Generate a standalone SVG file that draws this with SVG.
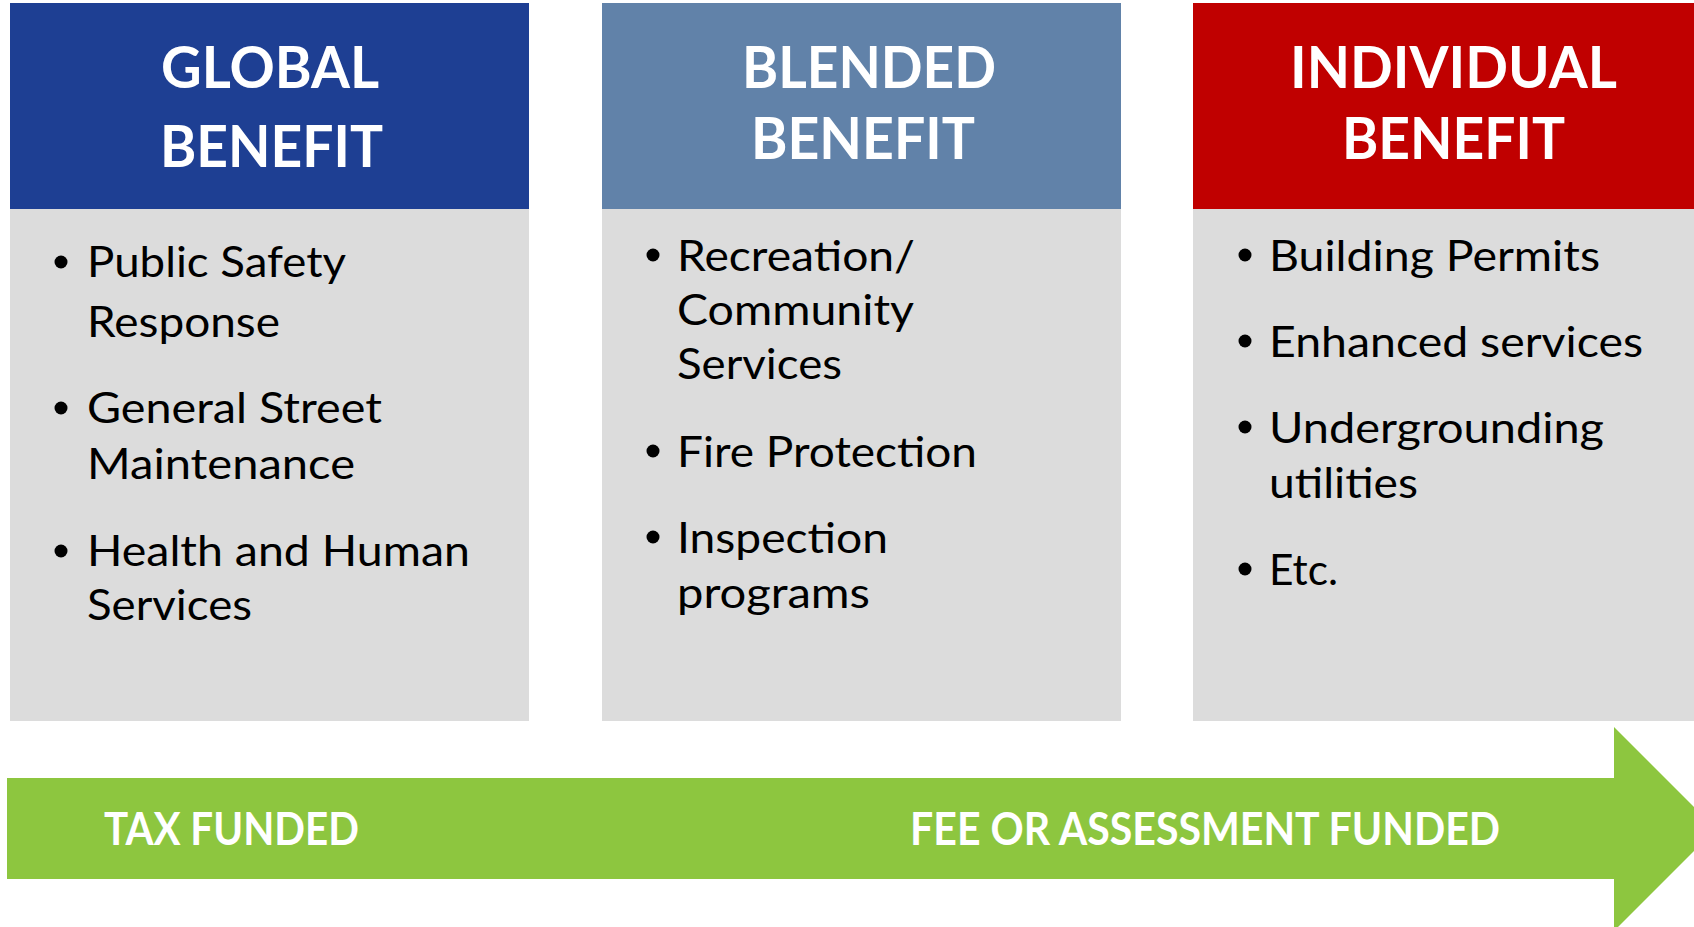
<svg xmlns="http://www.w3.org/2000/svg" width="1694" height="927" viewBox="0 0 1694 927">
<style>
.hd{font-family:Lato,"Open Sans","DejaVu Sans",sans-serif;font-weight:700;font-size:58px;fill:#ffffff}
.bt{font-family:Lato,"Open Sans","DejaVu Sans",sans-serif;font-size:43px;fill:#000000}
.gl{font-family:Lato,"Open Sans","DejaVu Sans",sans-serif;font-weight:700;font-size:45px;fill:#ffffff}
.body{fill:#dcdcdc}
.dot{fill:#000000}
</style>
<rect width="1694" height="927" fill="#ffffff"/>
<g id="global">
<rect x="10" y="3" width="519" height="206" fill="#1e3f93"/>
<rect class="body" x="10" y="209" width="519" height="512"/>
<text class="hd" x="161" y="88" textLength="218" lengthAdjust="spacingAndGlyphs">GLOBAL</text>
<text class="hd" x="160" y="167" textLength="223" lengthAdjust="spacingAndGlyphs">BENEFIT</text>
<circle class="dot" cx="61" cy="262" r="6.5"/>
<text class="bt" x="87" y="277" textLength="259" lengthAdjust="spacingAndGlyphs">Public Safety</text>
<text class="bt" x="87" y="337" textLength="193" lengthAdjust="spacingAndGlyphs">Response</text>
<circle class="dot" cx="61" cy="408" r="6.5"/>
<text class="bt" x="87" y="423" textLength="295" lengthAdjust="spacingAndGlyphs">General Street</text>
<text class="bt" x="87" y="479" textLength="268" lengthAdjust="spacingAndGlyphs">Maintenance</text>
<circle class="dot" cx="61" cy="551" r="6.5"/>
<text class="bt" x="87" y="566" textLength="383" lengthAdjust="spacingAndGlyphs">Health and Human</text>
<text class="bt" x="87" y="620" textLength="165" lengthAdjust="spacingAndGlyphs">Services</text>
</g>
<g id="blended">
<rect x="602" y="3" width="519" height="206" fill="#6182a9"/>
<rect class="body" x="602" y="209" width="519" height="512"/>
<text class="hd" x="742" y="88" textLength="254" lengthAdjust="spacingAndGlyphs">BLENDED</text>
<text class="hd" x="751" y="159" textLength="224" lengthAdjust="spacingAndGlyphs">BENEFIT</text>
<circle class="dot" cx="653" cy="255" r="6.5"/>
<text class="bt" x="677" y="271" textLength="238" lengthAdjust="spacingAndGlyphs">Recreation/</text>
<text class="bt" x="677" y="325" textLength="237" lengthAdjust="spacingAndGlyphs">Community</text>
<text class="bt" x="677" y="379" textLength="165" lengthAdjust="spacingAndGlyphs">Services</text>
<circle class="dot" cx="653" cy="451" r="6.5"/>
<text class="bt" x="677" y="467" textLength="300" lengthAdjust="spacingAndGlyphs">Fire Protection</text>
<circle class="dot" cx="653" cy="537" r="6.5"/>
<text class="bt" x="677" y="553" textLength="211" lengthAdjust="spacingAndGlyphs">Inspection</text>
<text class="bt" x="677" y="608" textLength="193" lengthAdjust="spacingAndGlyphs">programs</text>
</g>
<g id="individual">
<rect x="1193" y="3" width="501" height="206" fill="#c00000"/>
<rect class="body" x="1193" y="209" width="501" height="512"/>
<text class="hd" x="1290" y="88" textLength="327" lengthAdjust="spacingAndGlyphs">INDIVIDUAL</text>
<text class="hd" x="1342" y="159" textLength="223" lengthAdjust="spacingAndGlyphs">BENEFIT</text>
<circle class="dot" cx="1245" cy="255" r="6.5"/>
<text class="bt" x="1269" y="271" textLength="331" lengthAdjust="spacingAndGlyphs">Building Permits</text>
<circle class="dot" cx="1245" cy="341" r="6.5"/>
<text class="bt" x="1269" y="357" textLength="374" lengthAdjust="spacingAndGlyphs">Enhanced services</text>
<circle class="dot" cx="1245" cy="427" r="6.5"/>
<text class="bt" x="1269" y="443" textLength="335" lengthAdjust="spacingAndGlyphs">Undergrounding</text>
<text class="bt" x="1269" y="498" textLength="149" lengthAdjust="spacingAndGlyphs">utilities</text>
<circle class="dot" cx="1245" cy="569" r="6.5"/>
<text class="bt" x="1269" y="585" textLength="69" lengthAdjust="spacingAndGlyphs">Etc.</text>
</g>
<g id="connectors">
<polygon points="7,778 1614,778 1614,727 1716,829 1614,931 1614,879 7,879" fill="#8dc63f"/>
<text class="gl" x="104" y="845" textLength="255" lengthAdjust="spacingAndGlyphs">TAX FUNDED</text>
<text class="gl" x="910" y="845" textLength="590" lengthAdjust="spacingAndGlyphs">FEE OR ASSESSMENT FUNDED</text>
</g>
</svg>
